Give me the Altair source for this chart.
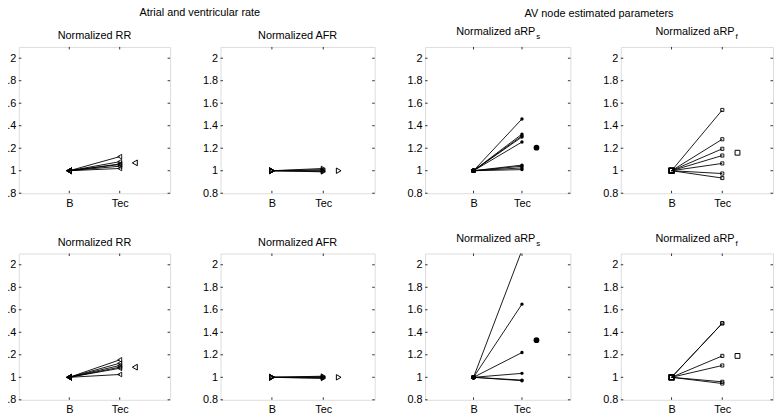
import altair as alt
import pandas as pd

# ---------------- data ----------------
x_labels = ["B", "Tec"]
baseline = 1.0
mean_x = 2.3
y_ticks = [0.8, 1.0, 1.2, 1.4, 1.6, 1.8, 2.0]

group_titles = ["Atrial and ventricular rate", "AV node estimated parameters"]

rr_top = [1.125, 1.08, 1.06, 1.055, 1.04, 1.02]
rr_top_mean = 1.07
afr_top = [1.02, 1.01, 1.0, 0.995, 0.99]
afr_top_mean = 1.0
arps_top = [1.46, 1.325, 1.31, 1.30, 1.255, 1.05, 1.04, 1.025, 1.01]
arps_top_mean = 1.205
arpf_top = [1.54, 1.28, 1.195, 1.135, 1.065, 0.975, 0.935]
arpf_top_mean = 1.16

rr_bot = [1.155, 1.125, 1.105, 1.09, 1.08, 1.025]
rr_bot_mean = 1.09
afr_bot = [1.01, 1.005, 1.0, 0.995, 0.99]
afr_bot_mean = 1.0
arps_bot = [2.13, 1.65, 1.22, 1.035, 0.975, 0.97]
arps_bot_mean = 1.33
arpf_bot = [1.48, 1.48, 1.19, 1.105, 0.96, 0.945]
arpf_bot_mean = 1.19

H = 148
INK = "#000000"
BOX = "#333333"
FONT = "Liberation Sans"
FS = 11


def make_panel(values, mean, shape, filled, title_main, title_sub, width,
               tec_size, b_size, mean_size, group_title=None, gt_x=0, gt_y=0):
    rows = []
    for i, v in enumerate(values):
        rows.append({"s": i, "x": 1, "y": baseline})
        rows.append({"s": i, "x": 2, "y": v})
    df = pd.DataFrame(rows)
    mean_df = pd.DataFrame({"x": [mean_x], "y": [mean]})
    yt = pd.DataFrame({"y": y_ticks})
    xt = pd.DataFrame({"x": [1, 2]})

    xs = alt.Scale(domain=[0, 3], nice=False, zero=False)
    ys = alt.Scale(domain=[0.8, 2.1], nice=False, zero=False)
    xaxis = alt.Axis(values=[1, 2],
                     labelExpr="datum.value == 1 ? '%s' : '%s'" % (x_labels[0], x_labels[1]),
                     ticks=False, domain=False, grid=False, labelPadding=4,
                     labelOverlap=False, labelFlush=False,
                     labelFontSize=FS, labelColor=INK, labelFont=FONT)
    yaxis = alt.Axis(values=y_ticks, format="~g", ticks=False, domain=False,
                     grid=False, labelPadding=3, labelFontSize=FS,
                     labelOverlap=False, labelFlush=False,
                     labelColor=INK, labelFont=FONT)

    def X():
        return alt.X("x:Q", scale=xs, title=None, axis=xaxis)

    def Y():
        return alt.Y("y:Q", scale=ys, title=None, axis=yaxis)

    base = alt.Chart(df)
    lines = base.mark_line(color=INK, strokeWidth=0.9, clip=True).encode(
        x=X(), y=Y(), detail="s:N")
    tec = base.transform_filter("datum.x == 2").mark_point(
        shape=shape, filled=filled, size=tec_size, color=INK, strokeWidth=0.9,
        opacity=1, clip=True).encode(x=X(), y=Y())
    bpt = base.transform_filter("datum.x == 1").mark_point(
        shape=shape, filled=filled, size=b_size, color=INK, strokeWidth=1.1,
        opacity=1, clip=True).encode(x=X(), y=Y())
    mpt = alt.Chart(mean_df).mark_point(
        shape=shape, filled=filled, size=mean_size, color=INK, strokeWidth=1,
        opacity=1, clip=True).encode(x=X(), y=Y())

    tick_l = alt.Chart(yt).mark_rule(color=BOX, strokeWidth=1).encode(
        y=Y(), x=alt.value(0), x2=alt.value(2.5))
    tick_r = alt.Chart(yt).mark_rule(color=BOX, strokeWidth=1).encode(
        y=Y(), x=alt.value(width - 2.5), x2=alt.value(width))
    tick_b = alt.Chart(xt).mark_rule(color=BOX, strokeWidth=1).encode(
        x=X(), y=alt.value(H - 2.5), y2=alt.value(H))
    tick_t = alt.Chart(xt).mark_rule(color=BOX, strokeWidth=1).encode(
        x=X(), y=alt.value(0), y2=alt.value(2.5))

    layers = [lines, tec, bpt, mpt, tick_l, tick_r, tick_b, tick_t]

    if title_sub:
        t1 = alt.Chart(mean_df).mark_text(
            text=title_main, align="right", baseline="alphabetic", fontSize=FS,
            font=FONT, color=INK).encode(x=alt.value(width / 2 + 38), y=alt.value(-12))
        t2 = alt.Chart(mean_df).mark_text(
            text=title_sub, align="left", baseline="alphabetic", fontSize=8,
            font=FONT, color=INK).encode(x=alt.value(width / 2 + 39), y=alt.value(-8))
        layers += [t1, t2]
    else:
        t1 = alt.Chart(mean_df).mark_text(
            text=title_main, align="center", baseline="alphabetic", fontSize=FS,
            font=FONT, color=INK).encode(x=alt.value(width / 2), y=alt.value(-8))
        layers += [t1]

    if group_title:
        g = alt.Chart(mean_df).mark_text(
            text=group_title, align="center", baseline="alphabetic", fontSize=FS,
            font=FONT, color=INK).encode(x=alt.value(gt_x), y=alt.value(gt_y))
        layers += [g]

    return alt.layer(*layers).properties(width=width, height=H)


W1, W2, W3, W4 = 153, 156, 147, 154
SP = 51

# group title x positions relative to the left edge of panels 1 and 3
g1_x = (0 + W1 + SP + W2) / 2 + 3
g2_x = (0 + W3 + SP + W4) / 2

p1 = make_panel(rr_top, rr_top_mean, "triangle-left", False, "Normalized RR", None, W1,
                22, 26, 34, group_titles[0], g1_x, -31)
p2 = make_panel(afr_top, afr_top_mean, "triangle-right", False, "Normalized AFR", None, W2,
                22, 26, 30)
p3 = make_panel(arps_top, arps_top_mean, "circle", True, "Normalized aRP", "s", W3,
                12, 22, 34, group_titles[1], g2_x, -30)
p4 = make_panel(arpf_top, arpf_top_mean, "square", False, "Normalized aRP", "f", W4,
                10, 22, 24)

p5 = make_panel(rr_bot, rr_bot_mean, "triangle-left", False, "Normalized RR", None, W1,
                22, 26, 34)
p6 = make_panel(afr_bot, afr_bot_mean, "triangle-right", False, "Normalized AFR", None, W2,
                22, 26, 30)
p7 = make_panel(arps_bot, arps_bot_mean, "circle", True, "Normalized aRP", "s", W3,
                12, 22, 34)
p8 = make_panel(arpf_bot, arpf_bot_mean, "square", False, "Normalized aRP", "f", W4,
                10, 22, 24)

chart = alt.concat(
    p1, p2, p3, p4, p5, p6, p7, p8,
    columns=4, bounds="flush",
    spacing=alt.RowColnumber(row=61, column=SP),
).properties(
    padding={"left": -8, "top": -4, "right": 0, "bottom": 0}
).configure_view(
    stroke=BOX, strokeWidth=1
).configure(font=FONT, background="white")

chart.save("out.html", embed_options={"renderer": "svg", "actions": False})
